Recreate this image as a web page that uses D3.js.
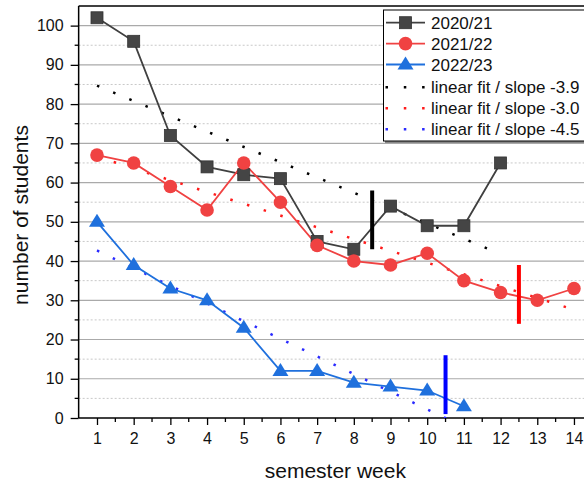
<!DOCTYPE html>
<html><head><meta charset="utf-8">
<script src="https://cdn.jsdelivr.net/npm/d3@7"></script>
<style>body{margin:0;background:#fff}svg{display:block;font-family:"Liberation Sans",Arial,sans-serif}</style>
</head><body><svg id="c" width="584" height="484"></svg>
<script>
const weeks = [1,2,3,4,5,6,7,8,9,10,11,12,13,14];
const s2020 = [102,96,72,64,62,61,45,43,54,49,49,65];
const s2021 = [67,65,59,53,65,55,44,40,39,42,35,32,30,33];
const s2022 = [50,39,33,30,23,12,12,9,8,7,3];
const seriesNames = ["2020/21","2021/22","2022/23"];
const fitSlopes = [-3.9,-3.0,-4.5];
const fitIntercepts = [88.6,69.6,47.2];
const fitRanges = [[1,12],[1,14],[1,11]];
const fitNames = ["linear fit / slope -3.9","linear fit / slope -3.0","linear fit / slope -4.5"];
const markWeeks = [8.5,12.5,10.5];
const markRanges = [[43,58],[24,39],[1,16]];
const yTicks = [0,10,20,30,40,50,60,70,80,90,100];

const colors = ["#404040","#f04242","#1f70dd"];
const fitColors = ["#000000","#ff1a1a","#2a2aff"];
const barColors = ["#000000","#ff0000","#0000ff"];

const svg = d3.select("#c");
const x = d3.scaleLinear().domain([0.5,14.5]).range([78.65,592.3]);
const y = d3.scaleLinear().domain([0,105]).range([418,6]);

// grid
const minorY = d3.range(5,105,10);
svg.append("g").selectAll("line").data(minorY).join("line")
  .attr("x1",x(0.5)).attr("x2",x(14.5)).attr("y1",d=>y(d)).attr("y2",d=>y(d))
  .attr("stroke","#c8c8c8").attr("stroke-width",1).attr("stroke-dasharray","2,2");
svg.append("g").selectAll("line").data(yTicks.filter(d=>d>0)).join("line")
  .attr("x1",x(0.5)).attr("x2",x(14.5)).attr("y1",d=>y(d)).attr("y2",d=>y(d))
  .attr("stroke","#aaaaaa").attr("stroke-width",1.2);

svg.append("defs").append("clipPath").attr("id","clip").append("rect")
  .attr("x",x(0.5)).attr("y",y(105)).attr("width",x(14.5)-x(0.5)).attr("height",y(0)-y(105));

// axes
const xAxis = d3.axisBottom(x).tickValues(weeks).tickSize(7).tickPadding(8).tickFormat(d3.format("d"));
const gx = svg.append("g").attr("transform",`translate(0,${y(0)})`).call(xAxis);
gx.select(".domain").remove();
gx.append("line").attr("x1",x(0.5)).attr("x2",x(14.5)).attr("stroke","#000").attr("stroke-width",1.5);
gx.selectAll(".tick line").attr("stroke","#000").attr("stroke-width",1.3);
gx.selectAll(".tick text").attr("font-size",16).attr("fill","#111").attr("font-family","Liberation Sans, Arial");
gx.selectAll(".minor").data(d3.range(1.5,14.5,1)).join("line").attr("class","minor")
  .attr("x1",d=>x(d)).attr("x2",d=>x(d)).attr("y1",0).attr("y2",4).attr("stroke","#000").attr("stroke-width",1.3);

const yAxis = d3.axisLeft(y).tickValues(yTicks).tickSize(8).tickPadding(7).tickFormat(d3.format("d"));
const gy = svg.append("g").attr("transform",`translate(${x(0.5)},0)`).call(yAxis);
gy.select(".domain").remove();
gy.append("line").attr("y1",y(0)).attr("y2",y(105)).attr("stroke","#000").attr("stroke-width",1.5);
gy.selectAll(".tick line").attr("stroke","#000").attr("stroke-width",1.3);
gy.selectAll(".tick text").attr("font-size",16).attr("fill","#111").attr("font-family","Liberation Sans, Arial");
gy.selectAll(".minor").data(minorY).join("line").attr("class","minor")
  .attr("y1",d=>y(d)).attr("y2",d=>y(d)).attr("x1",0).attr("x2",-4).attr("stroke","#000").attr("stroke-width",1.3);

// top frame
svg.append("line").attr("x1",x(0.5)).attr("x2",x(14.5)).attr("y1",y(105)).attr("y2",y(105)).attr("stroke","#000").attr("stroke-width",1.5);

// titles
svg.append("text").attr("x",(x(0.5)+584)/2+4).attr("y",478).attr("text-anchor","middle")
  .attr("font-size",21).attr("fill","#111").text("semester week");
svg.append("text").attr("transform","translate(28,215) rotate(-90)").attr("text-anchor","middle")
  .attr("font-size",21).attr("fill","#111").text("number of students");

const plot = svg.append("g").attr("clip-path","url(#clip)");

// fits
fitSlopes.forEach((m,i)=>{
  const pts = fitRanges[i].map(w=>[w, fitIntercepts[i]+m*w]);
  plot.append("path").attr("d",d3.line().x(d=>x(d[0])).y(d=>y(d[1]))(pts))
    .attr("fill","none").attr("stroke",fitColors[i]).attr("stroke-width",2.5)
    .attr("stroke-dasharray","2.5,15");
});

// series
const data = [s2020,s2021,s2022];
const line = d3.line().x((d,i)=>x(weeks[i])).y(d=>y(d));
data.forEach((s,i)=>{
  plot.append("path").attr("d",line(s)).attr("fill","none").attr("stroke",colors[i]).attr("stroke-width",1.8);
});

// vertical markers
markWeeks.forEach((w,i)=>{
  plot.append("line").attr("x1",x(w)).attr("x2",x(w)).attr("y1",y(markRanges[i][0])).attr("y2",y(markRanges[i][1]))
    .attr("stroke",barColors[i]).attr("stroke-width",4);
});

function drawMarker(g,type,cx,cy){
  if(type===0) g.append("rect").attr("x",cx-6).attr("y",cy-6).attr("width",12).attr("height",12)
     .attr("fill","#454545").attr("stroke","#333").attr("stroke-width",0.8);
  else if(type===1) g.append("circle").attr("cx",cx).attr("cy",cy).attr("r",6.8).attr("fill",colors[1]);
  else g.append("path").attr("d",`M${cx},${cy-8}L${cx+8},${cy+5}L${cx-8},${cy+5}Z`).attr("fill",colors[2]);
}
data.forEach((s,i)=>{
  s.forEach((v,j)=>drawMarker(plot,i,x(weeks[j]),y(v)));
});

// legend
const lg = svg.append("g");
lg.append("rect").attr("x",385).attr("y",12).attr("width",240).attr("height",131).attr("fill","#888");
lg.append("rect").attr("x",383.5).attr("y",10).attr("width",240).attr("height",131).attr("fill","#fff").attr("stroke","#000").attr("stroke-width",1);
const rowY = [22.7,43.6,64.5,87.3,108.3,129.3];
seriesNames.forEach((n,i)=>{
  lg.append("line").attr("x1",386).attr("x2",425).attr("y1",rowY[i]).attr("y2",rowY[i]).attr("stroke",colors[i]).attr("stroke-width",1.8);
  drawMarker(lg,i,405.5,rowY[i]);
  lg.append("text").attr("x",431).attr("y",rowY[i]+6).attr("font-size",17).attr("fill","#111").text(n);
});
fitNames.forEach((n,i)=>{
  const yy = rowY[i+3];
  lg.append("line").attr("x1",385.5).attr("x2",425).attr("y1",yy).attr("y2",yy).attr("stroke",fitColors[i]).attr("stroke-width",2.5).attr("stroke-dasharray","2.5,15.8");
  lg.append("text").attr("x",431).attr("y",yy+6).attr("font-size",17).attr("fill","#111").text(n);
});
</script></body></html>
